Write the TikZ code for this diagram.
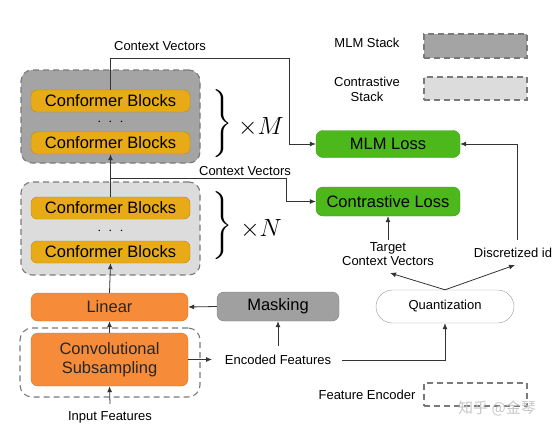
\documentclass[tikz,border=0pt]{standalone}
\usepackage{fontspec}
\setmainfont{Liberation Sans}
\newfontfamily\cjk{Noto Sans CJK SC}
\usetikzlibrary{arrows.meta,positioning}
\definecolor{mlmgray}{HTML}{A4A4A4}
\definecolor{cgray}{HTML}{DCDCDC}
\definecolor{dashgray}{HTML}{7A7A7A}
\definecolor{conf}{HTML}{E8AA17}
\definecolor{confb}{HTML}{B88A10}
\definecolor{orng}{HTML}{F68C3A}
\definecolor{orngb}{HTML}{D97020}
\definecolor{grn}{HTML}{4DB81B}
\definecolor{grnb}{HTML}{3C9A12}
\definecolor{mask}{HTML}{A0A0A0}
\definecolor{maskb}{HTML}{808080}
\definecolor{ln}{HTML}{333333}
\tikzset{
  stackbox/.style={draw=dashgray,dashed,dash pattern=on 6pt off 4pt,line width=1.1pt,rounded corners=11pt,minimum width=179pt,minimum height=93pt,inner sep=0pt},
  confbox/.style={draw=confb,fill=conf,rounded corners=6pt,minimum width=159pt,minimum height=22pt,inner sep=0pt,font=\fontsize{16.5}{18}\selectfont},
  orbox/.style={draw=orngb,fill=orng,rounded corners=7pt,minimum width=157pt,inner sep=0pt,font=\fontsize{16.5}{19}\selectfont,align=center,text=black!85},
  grbox/.style={draw=grnb,fill=grn,rounded corners=7pt,minimum width=144pt,inner sep=0pt,font=\fontsize{16.5}{18}\selectfont},
  lbl/.style={font=\fontsize{13}{15}\selectfont,inner sep=1pt,align=center},
  legbox/.style={draw=dashgray,dashed,dash pattern=on 6pt off 4pt,line width=1.1pt,minimum width=103pt,minimum height=23pt,inner sep=0pt},
  bracenode/.style={inner sep=0pt},
  arr/.style={draw=ln,line width=0.8pt,-{Latex[length=6pt,width=5pt]}},
  ln/.style={draw=ln,line width=0.8pt}
}
\begin{document}
\begin{tikzpicture}[x=1pt,y=-1pt]
\useasboundingbox (0,0) rectangle (554,431);
% stacks
\node[stackbox,fill=mlmgray] (mlm) at (110.5,116.5) {};
\node[stackbox,fill=cgray] (cst) at (110.5,228.5) {};
\node[confbox] (cb1) at (110.5,101) {Conformer Blocks};
\node[font=\fontsize{14}{14}\selectfont] (d1) at (110.5,122) {$\cdot\;\cdot\;\cdot$};
\node[confbox] (cb2) at (110.5,143) {Conformer Blocks};
\node[confbox] (cb3) at (110.5,208) {Conformer Blocks};
\node[font=\fontsize{14}{14}\selectfont] (d2) at (110.5,231) {$\cdot\;\cdot\;\cdot$};
\node[confbox] (cb4) at (110.5,252) {Conformer Blocks};
% braces
\node[bracenode] (brm) at (222,124) {\resizebox*{20pt}{68pt}{$\Bigg\}$}};
\node[inner sep=0pt,font=\fontsize{24}{26}\selectfont] (xm) at (261,127) {$\times M$};
\node[bracenode] (brn) at (222,226) {\resizebox*{20pt}{68pt}{$\Bigg\}$}};
\node[inner sep=0pt,font=\fontsize{24}{26}\selectfont] (xn) at (261,229) {$\times N$};
% feature encoder
\node[draw=dashgray,dashed,dash pattern=on 6pt off 4pt,line width=1.1pt,rounded corners=12pt,minimum width=180pt,minimum height=69pt,inner sep=0pt] (fe) at (110,362.5) {};
\node[orbox,minimum height=28pt] (lin) at (109.5,307) {Linear};
\node[orbox,minimum height=53pt] (conv) at (109.5,359.5) {Convolutional\\Subsampling};
\node[draw=maskb,fill=mask,rounded corners=7pt,minimum width=122pt,minimum height=29pt,inner sep=0pt,font=\fontsize{16.5}{18}\selectfont] (mask) at (278,306.5) {Masking};
\node[grbox,minimum height=27pt] (mlml) at (388,144) {MLM Loss};
\node[grbox,minimum height=29pt] (cl) at (388,201.5) {Contrastive Loss};
\node[draw=gray!80,fill=white,rounded corners=16.5pt,minimum width=138pt,minimum height=33pt,inner sep=0pt,font=\fontsize{13}{15}\selectfont] (q) at (445,306.5) {Quantization};
% labels
\node[lbl] (ctx1) at (160,46) {Context Vectors};
\node[lbl] (ctx2) at (245,171) {Context Vectors};
\node[lbl,font=\fontsize{13}{14.5}\selectfont] (tgt) at (388,254) {Target\\Context Vectors};
\node[lbl] (disc) at (513,253) {Discretized id};
\node[lbl] (enc) at (278,360) {Encoded Features};
\node[lbl] (inp) at (110,417) {Input Features};
% legend
\node[lbl] (legm) at (367,43) {MLM Stack};
\node[legbox,fill=mlmgray,minimum height=24pt] (legmb) at (475.5,46) {};
\node[lbl,font=\fontsize{13}{15}\selectfont] (legc) at (367,89.5) {Contrastive\\Stack};
\node[legbox,fill=cgray] (legcb) at (475.5,88.5) {};
\node[lbl] (legf) at (367,395) {Feature Encoder};
\node[legbox] (legfb) at (475.5,394.5) {};
\node[text=gray!45,font=\cjk\fontsize{15}{17}\selectfont,inner sep=0pt] (wm) at (497,408) {知乎 @金琴};
% coordinates
\coordinate (c1a) at (110.5,58);
\coordinate (c1b) at (289,58);
\coordinate (c2a) at (110.5,178);
\coordinate (c2b) at (286,178);
\coordinate (dtop) at (517,240);
\coordinate (tgttip) at (390,273);
\coordinate (disctip) at (515,265);
\coordinate (convtip) at (212,359.5);
\coordinate (qcorner) at (445,360);
\coordinate (inpstart) at (110,404);
\coordinate (encstart) at (278,346);
% connectors
\draw[arr] (c1a) -- (c1b) |- (mlml.west);
\draw[ln] (cb1.north) -- (c1a);
\draw[arr] (c2a) -- (c2b) |- (cl.west);
\draw[arr] (cb3.north) -- (cb2.south);
\draw[arr] (lin.north) -- (cb4.south);
\draw[arr] (conv.north) -- (lin.south);
\draw[arr] (inpstart) -- (conv.south);
\draw[arr] (conv.east) -- (convtip);
\draw[arr] (mask.west) -- (lin.east);
\draw[arr] (encstart) -- (mask.south);
\draw[arr] (enc.east) ++(10,0) -- (qcorner) -- (q.south);
\draw[arr] (dtop) |- (mlml.east);
\draw[arr] (tgt.north) ++(0,-1) -- (cl.south);
\draw[arr] (q.north) -- (tgttip);
\draw[arr] (q.north) -- (disctip);
\end{tikzpicture}
\end{document}
